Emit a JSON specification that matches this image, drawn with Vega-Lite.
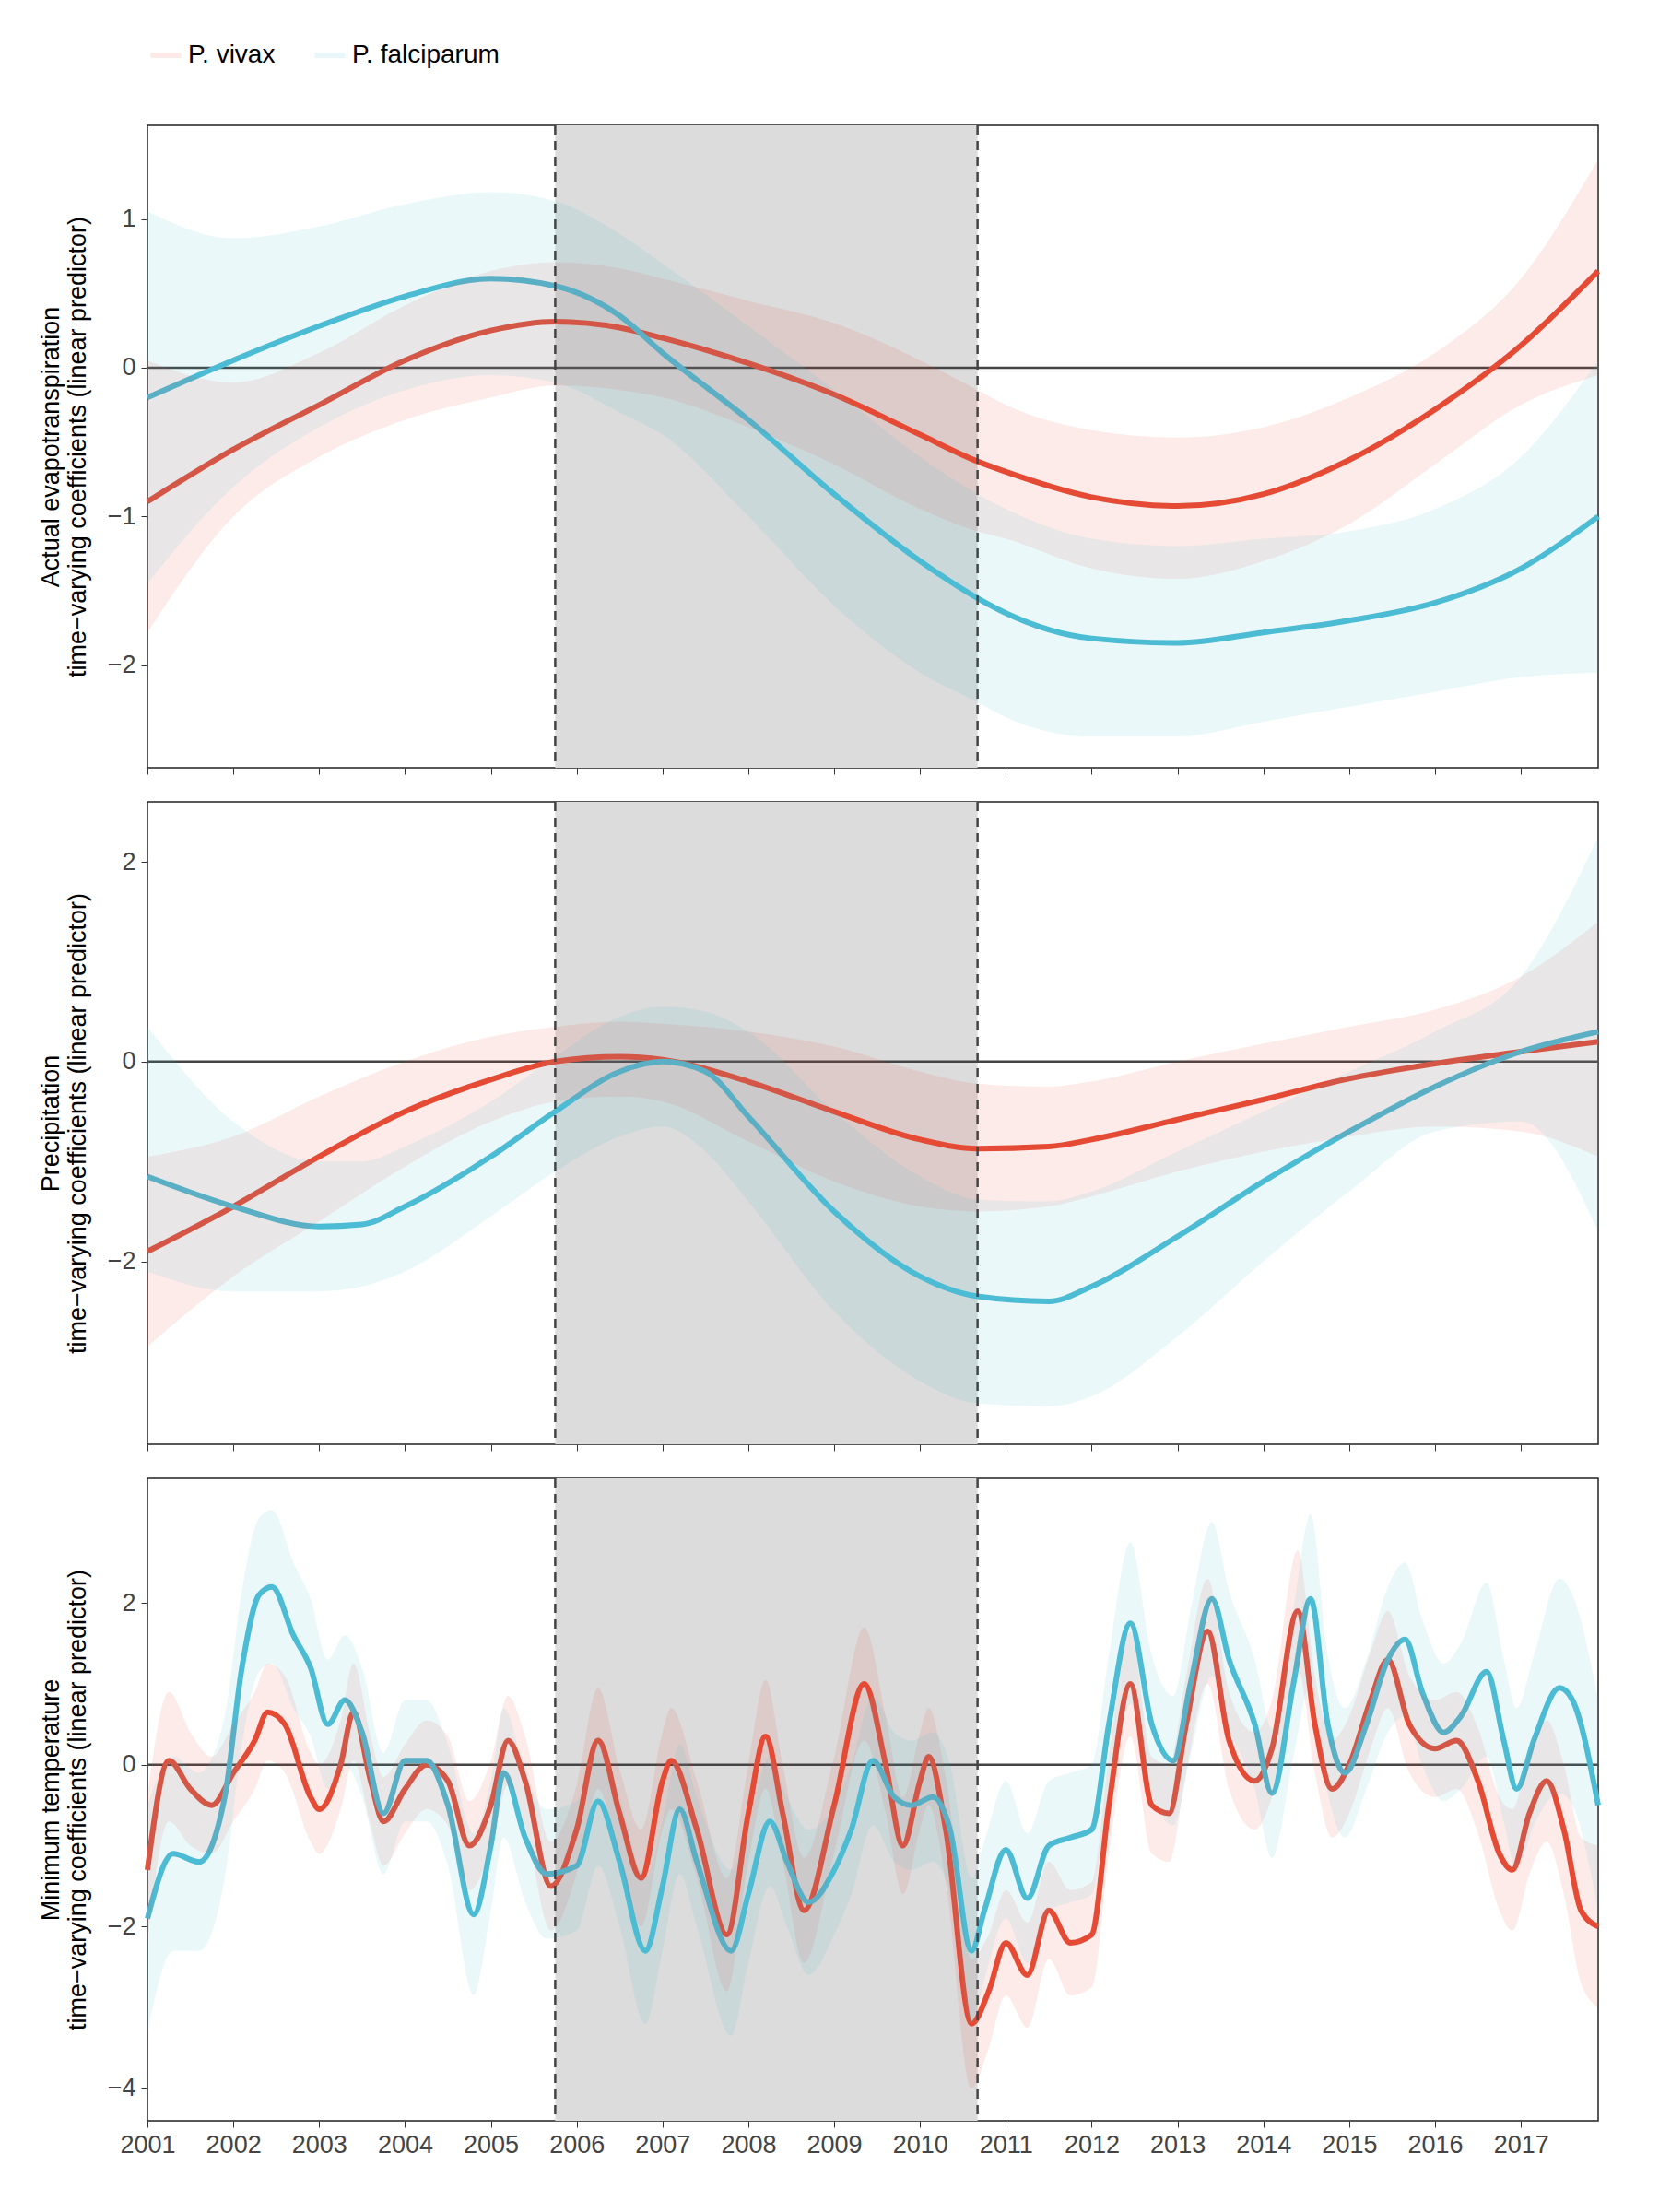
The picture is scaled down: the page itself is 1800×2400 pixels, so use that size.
{
  "$schema": "https://vega.github.io/schema/vega-lite/v6.json",
  "padding": {"left": 40, "top": 40, "right": 15, "bottom": 10},
  "config": {
    "font": "Liberation Sans",
    "view": {"stroke": "#222222", "strokeWidth": 1.5},
    "axis": {"grid": false, "domain": false, "labelFontSize": 27, "titleFontSize": 27, "labelColor": "#444444", "titleColor": "#000000", "titleFontWeight": "normal", "tickColor": "#333333", "tickSize": 7, "labelPadding": 6},
    "legend": {"orient": "top", "direction": "horizontal", "title": null, "labelFontSize": 28, "symbolType": "stroke", "symbolStrokeWidth": 6, "symbolSize": 1100, "columnPadding": 30, "offset": 60, "labelColor": "#000000"},
    "concat": {"spacing": 26}
  },
  "datasets": {
    "shade": [{"a": 2005.75, "b": 2010.67}],
    "p1": [
      {"s": "P. vivax", "x": 2001, "y": -0.9, "lo": -1.78, "hi": 0.05},
      {"s": "P. vivax", "x": 2002, "y": -0.55, "lo": -1.0, "hi": -0.1},
      {"s": "P. vivax", "x": 2003, "y": -0.25, "lo": -0.6, "hi": 0.1},
      {"s": "P. vivax", "x": 2004, "y": 0.05, "lo": -0.35, "hi": 0.42},
      {"s": "P. vivax", "x": 2005, "y": 0.25, "lo": -0.2, "hi": 0.65},
      {"s": "P. vivax", "x": 2005.75, "y": 0.31, "lo": -0.12, "hi": 0.71},
      {"s": "P. vivax", "x": 2006.5, "y": 0.27, "lo": -0.15, "hi": 0.67},
      {"s": "P. vivax", "x": 2007, "y": 0.2, "lo": -0.2, "hi": 0.6},
      {"s": "P. vivax", "x": 2008, "y": 0.03, "lo": -0.4, "hi": 0.45},
      {"s": "P. vivax", "x": 2009, "y": -0.18, "lo": -0.65, "hi": 0.3},
      {"s": "P. vivax", "x": 2010, "y": -0.45, "lo": -0.95, "hi": 0.05},
      {"s": "P. vivax", "x": 2010.67, "y": -0.63, "lo": -1.1, "hi": -0.15},
      {"s": "P. vivax", "x": 2011, "y": -0.7, "lo": -1.15, "hi": -0.25},
      {"s": "P. vivax", "x": 2012, "y": -0.87, "lo": -1.35, "hi": -0.42},
      {"s": "P. vivax", "x": 2013, "y": -0.93, "lo": -1.42, "hi": -0.47},
      {"s": "P. vivax", "x": 2014, "y": -0.85, "lo": -1.3, "hi": -0.4},
      {"s": "P. vivax", "x": 2015, "y": -0.62, "lo": -1.05, "hi": -0.2},
      {"s": "P. vivax", "x": 2016, "y": -0.28, "lo": -0.65, "hi": 0.1},
      {"s": "P. vivax", "x": 2017, "y": 0.15, "lo": -0.25, "hi": 0.6},
      {"s": "P. vivax", "x": 2017.9, "y": 0.65, "lo": -0.05, "hi": 1.4},
      {"s": "P. falciparum", "x": 2001, "y": -0.2, "lo": -1.45, "hi": 1.05},
      {"s": "P. falciparum", "x": 2002, "y": 0.05, "lo": -0.8, "hi": 0.87},
      {"s": "P. falciparum", "x": 2003, "y": 0.28, "lo": -0.4, "hi": 0.95},
      {"s": "P. falciparum", "x": 2004, "y": 0.48, "lo": -0.15, "hi": 1.1},
      {"s": "P. falciparum", "x": 2005, "y": 0.6, "lo": -0.05, "hi": 1.18},
      {"s": "P. falciparum", "x": 2005.75, "y": 0.55, "lo": -0.1, "hi": 1.12},
      {"s": "P. falciparum", "x": 2006.5, "y": 0.35, "lo": -0.3, "hi": 0.9},
      {"s": "P. falciparum", "x": 2007, "y": 0.1, "lo": -0.45, "hi": 0.7},
      {"s": "P. falciparum", "x": 2008, "y": -0.35, "lo": -1.0, "hi": 0.28},
      {"s": "P. falciparum", "x": 2009, "y": -0.85, "lo": -1.6, "hi": -0.15},
      {"s": "P. falciparum", "x": 2010, "y": -1.3, "lo": -2.05, "hi": -0.6},
      {"s": "P. falciparum", "x": 2010.67, "y": -1.55, "lo": -2.25, "hi": -0.85},
      {"s": "P. falciparum", "x": 2011, "y": -1.65, "lo": -2.35, "hi": -0.95},
      {"s": "P. falciparum", "x": 2012, "y": -1.82, "lo": -2.48, "hi": -1.15},
      {"s": "P. falciparum", "x": 2013, "y": -1.85, "lo": -2.48, "hi": -1.2},
      {"s": "P. falciparum", "x": 2014, "y": -1.78, "lo": -2.38, "hi": -1.15},
      {"s": "P. falciparum", "x": 2015, "y": -1.7, "lo": -2.28, "hi": -1.1},
      {"s": "P. falciparum", "x": 2016, "y": -1.58, "lo": -2.18, "hi": -0.95},
      {"s": "P. falciparum", "x": 2017, "y": -1.35, "lo": -2.08, "hi": -0.6},
      {"s": "P. falciparum", "x": 2017.9, "y": -1.0, "lo": -2.05, "hi": 0.05}
    ],
    "p2": [
      {"s": "P. vivax", "x": 2001, "y": -1.9, "lo": -2.85, "hi": -0.95},
      {"s": "P. vivax", "x": 2002, "y": -1.45, "lo": -2.15, "hi": -0.75},
      {"s": "P. vivax", "x": 2003, "y": -0.95, "lo": -1.6, "hi": -0.35},
      {"s": "P. vivax", "x": 2004, "y": -0.5, "lo": -1.05, "hi": 0.0},
      {"s": "P. vivax", "x": 2005, "y": -0.18, "lo": -0.6, "hi": 0.25},
      {"s": "P. vivax", "x": 2005.75, "y": 0.0, "lo": -0.4, "hi": 0.35},
      {"s": "P. vivax", "x": 2006.5, "y": 0.05, "lo": -0.35, "hi": 0.4},
      {"s": "P. vivax", "x": 2007, "y": 0.02, "lo": -0.4, "hi": 0.38},
      {"s": "P. vivax", "x": 2008, "y": -0.2, "lo": -0.8, "hi": 0.3},
      {"s": "P. vivax", "x": 2009, "y": -0.5, "lo": -1.2, "hi": 0.15},
      {"s": "P. vivax", "x": 2010, "y": -0.78, "lo": -1.45, "hi": -0.1},
      {"s": "P. vivax", "x": 2010.67, "y": -0.87, "lo": -1.5, "hi": -0.22},
      {"s": "P. vivax", "x": 2011.5, "y": -0.85, "lo": -1.45, "hi": -0.25},
      {"s": "P. vivax", "x": 2012, "y": -0.78, "lo": -1.35, "hi": -0.2},
      {"s": "P. vivax", "x": 2013, "y": -0.58, "lo": -1.1, "hi": 0.0},
      {"s": "P. vivax", "x": 2014, "y": -0.38, "lo": -0.9, "hi": 0.18},
      {"s": "P. vivax", "x": 2015, "y": -0.17, "lo": -0.75, "hi": 0.35},
      {"s": "P. vivax", "x": 2016, "y": -0.02, "lo": -0.65, "hi": 0.52},
      {"s": "P. vivax", "x": 2017, "y": 0.1, "lo": -0.7, "hi": 0.85},
      {"s": "P. vivax", "x": 2017.9, "y": 0.2, "lo": -0.95, "hi": 1.4},
      {"s": "P. falciparum", "x": 2001, "y": -1.15, "lo": -2.1, "hi": 0.35},
      {"s": "P. falciparum", "x": 2002, "y": -1.45, "lo": -2.3, "hi": -0.6},
      {"s": "P. falciparum", "x": 2003, "y": -1.65, "lo": -2.3, "hi": -1.0},
      {"s": "P. falciparum", "x": 2003.5, "y": -1.63, "lo": -2.25, "hi": -1.0},
      {"s": "P. falciparum", "x": 2004, "y": -1.45, "lo": -2.1, "hi": -0.85},
      {"s": "P. falciparum", "x": 2005, "y": -0.95, "lo": -1.55, "hi": -0.4},
      {"s": "P. falciparum", "x": 2005.75, "y": -0.5, "lo": -1.1, "hi": 0.05},
      {"s": "P. falciparum", "x": 2006.5, "y": -0.1, "lo": -0.75, "hi": 0.45},
      {"s": "P. falciparum", "x": 2007, "y": 0.0, "lo": -0.65, "hi": 0.55},
      {"s": "P. falciparum", "x": 2007.5, "y": -0.1, "lo": -0.9, "hi": 0.5},
      {"s": "P. falciparum", "x": 2008, "y": -0.55, "lo": -1.4, "hi": 0.3},
      {"s": "P. falciparum", "x": 2009, "y": -1.5, "lo": -2.5, "hi": -0.5},
      {"s": "P. falciparum", "x": 2010, "y": -2.15, "lo": -3.2, "hi": -1.15},
      {"s": "P. falciparum", "x": 2010.67, "y": -2.35, "lo": -3.42, "hi": -1.38},
      {"s": "P. falciparum", "x": 2011.5, "y": -2.4, "lo": -3.45, "hi": -1.4},
      {"s": "P. falciparum", "x": 2012, "y": -2.25, "lo": -3.35, "hi": -1.3},
      {"s": "P. falciparum", "x": 2013, "y": -1.75, "lo": -2.75, "hi": -0.9},
      {"s": "P. falciparum", "x": 2014, "y": -1.2, "lo": -2.0, "hi": -0.5},
      {"s": "P. falciparum", "x": 2015, "y": -0.7, "lo": -1.3, "hi": -0.1},
      {"s": "P. falciparum", "x": 2016, "y": -0.25, "lo": -0.7, "hi": 0.3},
      {"s": "P. falciparum", "x": 2017, "y": 0.1, "lo": -0.6, "hi": 0.85},
      {"s": "P. falciparum", "x": 2017.9, "y": 0.3, "lo": -1.7, "hi": 2.25}
    ],
    "p3": [
      {"s": "P. vivax", "x": 2001.0, "y": -1.3, "lo": -2.2, "hi": -0.4},
      {"s": "P. vivax", "x": 2001.25, "y": 0.05, "lo": -0.7, "hi": 0.9},
      {"s": "P. vivax", "x": 2001.5, "y": -0.3, "lo": -1.0, "hi": 0.4},
      {"s": "P. vivax", "x": 2001.75, "y": -0.5, "lo": -1.1, "hi": 0.1},
      {"s": "P. vivax", "x": 2002.0, "y": -0.1, "lo": -0.7, "hi": 0.5},
      {"s": "P. vivax", "x": 2002.25, "y": 0.3, "lo": -0.3, "hi": 0.9},
      {"s": "P. vivax", "x": 2002.4, "y": 0.65, "lo": 0.05, "hi": 1.25},
      {"s": "P. vivax", "x": 2002.6, "y": 0.5, "lo": -0.1, "hi": 1.1},
      {"s": "P. vivax", "x": 2002.9, "y": -0.4, "lo": -0.95, "hi": 0.15},
      {"s": "P. vivax", "x": 2003.0, "y": -0.55, "lo": -1.1, "hi": 0.0},
      {"s": "P. vivax", "x": 2003.25, "y": 0.0, "lo": -0.55, "hi": 0.55},
      {"s": "P. vivax", "x": 2003.4, "y": 0.65, "lo": 0.05, "hi": 1.25},
      {"s": "P. vivax", "x": 2003.6, "y": -0.2, "lo": -0.75, "hi": 0.35},
      {"s": "P. vivax", "x": 2003.75, "y": -0.7, "lo": -1.25, "hi": -0.15},
      {"s": "P. vivax", "x": 2004.0, "y": -0.3, "lo": -0.85, "hi": 0.25},
      {"s": "P. vivax", "x": 2004.25, "y": 0.0, "lo": -0.55, "hi": 0.55},
      {"s": "P. vivax", "x": 2004.5, "y": -0.2, "lo": -0.75, "hi": 0.35},
      {"s": "P. vivax", "x": 2004.75, "y": -1.0, "lo": -1.55, "hi": -0.45},
      {"s": "P. vivax", "x": 2005.0, "y": -0.5, "lo": -1.05, "hi": 0.05},
      {"s": "P. vivax", "x": 2005.2, "y": 0.3, "lo": -0.25, "hi": 0.85},
      {"s": "P. vivax", "x": 2005.4, "y": -0.2, "lo": -0.75, "hi": 0.35},
      {"s": "P. vivax", "x": 2005.7, "y": -1.5, "lo": -2.05, "hi": -0.95},
      {"s": "P. vivax", "x": 2006.0, "y": -0.8, "lo": -1.35, "hi": -0.25},
      {"s": "P. vivax", "x": 2006.25, "y": 0.3, "lo": -0.3, "hi": 0.95},
      {"s": "P. vivax", "x": 2006.5, "y": -0.6, "lo": -1.15, "hi": -0.05},
      {"s": "P. vivax", "x": 2006.75, "y": -1.4, "lo": -2.0, "hi": -0.8},
      {"s": "P. vivax", "x": 2007.0, "y": -0.2, "lo": -0.8, "hi": 0.4},
      {"s": "P. vivax", "x": 2007.1, "y": 0.05, "lo": -0.55, "hi": 0.7},
      {"s": "P. vivax", "x": 2007.4, "y": -0.8, "lo": -1.4, "hi": -0.2},
      {"s": "P. vivax", "x": 2007.75, "y": -2.1, "lo": -2.8, "hi": -1.4},
      {"s": "P. vivax", "x": 2008.0, "y": -0.6, "lo": -1.2, "hi": 0.0},
      {"s": "P. vivax", "x": 2008.2, "y": 0.35, "lo": -0.3, "hi": 1.05},
      {"s": "P. vivax", "x": 2008.4, "y": -0.6, "lo": -1.2, "hi": 0.0},
      {"s": "P. vivax", "x": 2008.65, "y": -1.8, "lo": -2.45, "hi": -1.15},
      {"s": "P. vivax", "x": 2009.0, "y": -0.5, "lo": -1.1, "hi": 0.1},
      {"s": "P. vivax", "x": 2009.35, "y": 1.0, "lo": 0.3, "hi": 1.7},
      {"s": "P. vivax", "x": 2009.6, "y": 0.0, "lo": -0.6, "hi": 0.6},
      {"s": "P. vivax", "x": 2009.8, "y": -1.0, "lo": -1.6, "hi": -0.4},
      {"s": "P. vivax", "x": 2010.0, "y": -0.2, "lo": -0.8, "hi": 0.4},
      {"s": "P. vivax", "x": 2010.1, "y": 0.1, "lo": -0.5, "hi": 0.7},
      {"s": "P. vivax", "x": 2010.3, "y": -0.8, "lo": -1.45, "hi": -0.15},
      {"s": "P. vivax", "x": 2010.6, "y": -3.2, "lo": -4.0, "hi": -2.4},
      {"s": "P. vivax", "x": 2010.8, "y": -2.8, "lo": -3.5, "hi": -2.1},
      {"s": "P. vivax", "x": 2011.0, "y": -2.2, "lo": -2.85, "hi": -1.55},
      {"s": "P. vivax", "x": 2011.25, "y": -2.6, "lo": -3.25, "hi": -1.95},
      {"s": "P. vivax", "x": 2011.5, "y": -1.8, "lo": -2.4, "hi": -1.2},
      {"s": "P. vivax", "x": 2011.75, "y": -2.2, "lo": -2.85, "hi": -1.55},
      {"s": "P. vivax", "x": 2012.0, "y": -2.1, "lo": -2.75, "hi": -1.45},
      {"s": "P. vivax", "x": 2012.2, "y": -0.5, "lo": -1.1, "hi": 0.1},
      {"s": "P. vivax", "x": 2012.45, "y": 1.0, "lo": 0.35, "hi": 1.65},
      {"s": "P. vivax", "x": 2012.7, "y": -0.5, "lo": -1.1, "hi": 0.1},
      {"s": "P. vivax", "x": 2012.9, "y": -0.6, "lo": -1.2, "hi": 0.0},
      {"s": "P. vivax", "x": 2013.1, "y": 0.5, "lo": -0.1, "hi": 1.1},
      {"s": "P. vivax", "x": 2013.35, "y": 1.65, "lo": 1.0, "hi": 2.3},
      {"s": "P. vivax", "x": 2013.6, "y": 0.3, "lo": -0.3, "hi": 0.9},
      {"s": "P. vivax", "x": 2013.9, "y": -0.2, "lo": -0.8, "hi": 0.4},
      {"s": "P. vivax", "x": 2014.1, "y": 0.2, "lo": -0.4, "hi": 0.8},
      {"s": "P. vivax", "x": 2014.4, "y": 1.9, "lo": 1.2, "hi": 2.65},
      {"s": "P. vivax", "x": 2014.6, "y": 0.5, "lo": -0.1, "hi": 1.1},
      {"s": "P. vivax", "x": 2014.8, "y": -0.3, "lo": -0.9, "hi": 0.3},
      {"s": "P. vivax", "x": 2015.0, "y": 0.0, "lo": -0.6, "hi": 0.6},
      {"s": "P. vivax", "x": 2015.25, "y": 0.8, "lo": 0.2, "hi": 1.4},
      {"s": "P. vivax", "x": 2015.45, "y": 1.3, "lo": 0.7, "hi": 1.9},
      {"s": "P. vivax", "x": 2015.7, "y": 0.5, "lo": -0.1, "hi": 1.1},
      {"s": "P. vivax", "x": 2016.0, "y": 0.2, "lo": -0.4, "hi": 0.8},
      {"s": "P. vivax", "x": 2016.25, "y": 0.3, "lo": -0.3, "hi": 0.9},
      {"s": "P. vivax", "x": 2016.5, "y": -0.2, "lo": -0.85, "hi": 0.45},
      {"s": "P. vivax", "x": 2016.75, "y": -1.1, "lo": -1.8, "hi": -0.4},
      {"s": "P. vivax", "x": 2016.9, "y": -1.3, "lo": -2.05, "hi": -0.55},
      {"s": "P. vivax", "x": 2017.1, "y": -0.6, "lo": -1.35, "hi": 0.15},
      {"s": "P. vivax", "x": 2017.3, "y": -0.2, "lo": -0.95, "hi": 0.55},
      {"s": "P. vivax", "x": 2017.5, "y": -0.8, "lo": -1.6, "hi": 0.0},
      {"s": "P. vivax", "x": 2017.7, "y": -1.8, "lo": -2.7, "hi": -0.9},
      {"s": "P. vivax", "x": 2017.9, "y": -2.0, "lo": -3.0, "hi": -1.0},
      {"s": "P. falciparum", "x": 2001.0, "y": -1.9, "lo": -3.3, "hi": -0.5},
      {"s": "P. falciparum", "x": 2001.3, "y": -1.1, "lo": -2.3, "hi": 0.1},
      {"s": "P. falciparum", "x": 2001.6, "y": -1.2, "lo": -2.3, "hi": -0.1},
      {"s": "P. falciparum", "x": 2001.9, "y": -0.4, "lo": -1.4, "hi": 0.6},
      {"s": "P. falciparum", "x": 2002.1, "y": 1.2, "lo": 0.25, "hi": 2.15},
      {"s": "P. falciparum", "x": 2002.3, "y": 2.1, "lo": 1.15, "hi": 3.05},
      {"s": "P. falciparum", "x": 2002.45, "y": 2.2, "lo": 1.25, "hi": 3.15},
      {"s": "P. falciparum", "x": 2002.7, "y": 1.6, "lo": 0.7, "hi": 2.5},
      {"s": "P. falciparum", "x": 2002.9, "y": 1.2, "lo": 0.35, "hi": 2.05},
      {"s": "P. falciparum", "x": 2003.1, "y": 0.5, "lo": -0.3, "hi": 1.3},
      {"s": "P. falciparum", "x": 2003.3, "y": 0.8, "lo": 0.0, "hi": 1.6},
      {"s": "P. falciparum", "x": 2003.5, "y": 0.4, "lo": -0.4, "hi": 1.2},
      {"s": "P. falciparum", "x": 2003.75, "y": -0.6, "lo": -1.35, "hi": 0.15},
      {"s": "P. falciparum", "x": 2004.0, "y": 0.05, "lo": -0.7, "hi": 0.8},
      {"s": "P. falciparum", "x": 2004.25, "y": 0.05, "lo": -0.7, "hi": 0.8},
      {"s": "P. falciparum", "x": 2004.5, "y": -0.5, "lo": -1.25, "hi": 0.25},
      {"s": "P. falciparum", "x": 2004.8, "y": -1.85, "lo": -2.85, "hi": -0.85},
      {"s": "P. falciparum", "x": 2005.0, "y": -1.0, "lo": -1.8, "hi": -0.2},
      {"s": "P. falciparum", "x": 2005.15, "y": -0.1, "lo": -0.9, "hi": 0.7},
      {"s": "P. falciparum", "x": 2005.4, "y": -0.9, "lo": -1.7, "hi": -0.1},
      {"s": "P. falciparum", "x": 2005.65, "y": -1.35, "lo": -2.15, "hi": -0.55},
      {"s": "P. falciparum", "x": 2006.0, "y": -1.25, "lo": -2.05, "hi": -0.45},
      {"s": "P. falciparum", "x": 2006.25, "y": -0.45, "lo": -1.25, "hi": 0.35},
      {"s": "P. falciparum", "x": 2006.5, "y": -1.2, "lo": -2.0, "hi": -0.4},
      {"s": "P. falciparum", "x": 2006.8, "y": -2.3, "lo": -3.2, "hi": -1.4},
      {"s": "P. falciparum", "x": 2007.0, "y": -1.5, "lo": -2.3, "hi": -0.7},
      {"s": "P. falciparum", "x": 2007.2, "y": -0.55, "lo": -1.35, "hi": 0.25},
      {"s": "P. falciparum", "x": 2007.4, "y": -1.2, "lo": -2.0, "hi": -0.4},
      {"s": "P. falciparum", "x": 2007.8, "y": -2.3, "lo": -3.35, "hi": -1.3},
      {"s": "P. falciparum", "x": 2008.0, "y": -1.6, "lo": -2.45, "hi": -0.75},
      {"s": "P. falciparum", "x": 2008.25, "y": -0.7, "lo": -1.5, "hi": 0.1},
      {"s": "P. falciparum", "x": 2008.45, "y": -1.2, "lo": -2.0, "hi": -0.4},
      {"s": "P. falciparum", "x": 2008.7, "y": -1.7, "lo": -2.6, "hi": -0.8},
      {"s": "P. falciparum", "x": 2009.0, "y": -1.3, "lo": -2.1, "hi": -0.5},
      {"s": "P. falciparum", "x": 2009.2, "y": -0.8, "lo": -1.6, "hi": 0.0},
      {"s": "P. falciparum", "x": 2009.45, "y": 0.05, "lo": -0.75, "hi": 0.85},
      {"s": "P. falciparum", "x": 2009.7, "y": -0.4, "lo": -1.2, "hi": 0.4},
      {"s": "P. falciparum", "x": 2009.9, "y": -0.5, "lo": -1.3, "hi": 0.3},
      {"s": "P. falciparum", "x": 2010.15, "y": -0.4, "lo": -1.2, "hi": 0.4},
      {"s": "P. falciparum", "x": 2010.35, "y": -0.8, "lo": -1.6, "hi": 0.0},
      {"s": "P. falciparum", "x": 2010.6, "y": -2.3, "lo": -3.2, "hi": -1.4},
      {"s": "P. falciparum", "x": 2010.75, "y": -1.8, "lo": -2.65, "hi": -0.95},
      {"s": "P. falciparum", "x": 2011.0, "y": -1.05, "lo": -1.9, "hi": -0.2},
      {"s": "P. falciparum", "x": 2011.25, "y": -1.65, "lo": -2.45, "hi": -0.85},
      {"s": "P. falciparum", "x": 2011.5, "y": -1.0, "lo": -1.8, "hi": -0.2},
      {"s": "P. falciparum", "x": 2011.75, "y": -0.9, "lo": -1.7, "hi": -0.1},
      {"s": "P. falciparum", "x": 2012.0, "y": -0.8, "lo": -1.6, "hi": 0.0},
      {"s": "P. falciparum", "x": 2012.2, "y": 0.5, "lo": -0.35, "hi": 1.35},
      {"s": "P. falciparum", "x": 2012.45, "y": 1.75, "lo": 0.75, "hi": 2.75},
      {"s": "P. falciparum", "x": 2012.7, "y": 0.5, "lo": -0.35, "hi": 1.35},
      {"s": "P. falciparum", "x": 2012.95, "y": 0.05, "lo": -0.75, "hi": 0.85},
      {"s": "P. falciparum", "x": 2013.15, "y": 1.0, "lo": 0.1, "hi": 1.9},
      {"s": "P. falciparum", "x": 2013.4, "y": 2.05, "lo": 1.1, "hi": 3.0},
      {"s": "P. falciparum", "x": 2013.6, "y": 1.3, "lo": 0.45, "hi": 2.15},
      {"s": "P. falciparum", "x": 2013.9, "y": 0.5, "lo": -0.3, "hi": 1.3},
      {"s": "P. falciparum", "x": 2014.1, "y": -0.35, "lo": -1.15, "hi": 0.45},
      {"s": "P. falciparum", "x": 2014.35, "y": 1.0, "lo": 0.1, "hi": 1.9},
      {"s": "P. falciparum", "x": 2014.55, "y": 2.05, "lo": 1.0, "hi": 3.1},
      {"s": "P. falciparum", "x": 2014.75, "y": 0.5, "lo": -0.35, "hi": 1.35},
      {"s": "P. falciparum", "x": 2014.95, "y": -0.1, "lo": -0.9, "hi": 0.7},
      {"s": "P. falciparum", "x": 2015.2, "y": 0.5, "lo": -0.3, "hi": 1.3},
      {"s": "P. falciparum", "x": 2015.45, "y": 1.3, "lo": 0.4, "hi": 2.2},
      {"s": "P. falciparum", "x": 2015.65, "y": 1.55, "lo": 0.6, "hi": 2.5},
      {"s": "P. falciparum", "x": 2015.85, "y": 0.9, "lo": 0.0, "hi": 1.8},
      {"s": "P. falciparum", "x": 2016.1, "y": 0.4, "lo": -0.45, "hi": 1.25},
      {"s": "P. falciparum", "x": 2016.3, "y": 0.6, "lo": -0.3, "hi": 1.5},
      {"s": "P. falciparum", "x": 2016.6, "y": 1.15, "lo": 0.1, "hi": 2.25},
      {"s": "P. falciparum", "x": 2016.8, "y": 0.3, "lo": -0.7, "hi": 1.3},
      {"s": "P. falciparum", "x": 2016.95, "y": -0.3, "lo": -1.3, "hi": 0.7},
      {"s": "P. falciparum", "x": 2017.15, "y": 0.3, "lo": -0.75, "hi": 1.35},
      {"s": "P. falciparum", "x": 2017.45, "y": 0.95, "lo": -0.35, "hi": 2.3},
      {"s": "P. falciparum", "x": 2017.6, "y": 0.8, "lo": -0.5, "hi": 2.1},
      {"s": "P. falciparum", "x": 2017.9, "y": -0.5, "lo": -1.8, "hi": 0.8}
    ]
  },
  "resolve": {"scale": {"color": "shared"}, "legend": {"color": "shared"}},
  "vconcat": [
    {
      "width": 1574, "height": 697,
      "layer": [
        {"data": {"name": "shade"}, "mark": {"type": "rect", "color": "#DCDCDC"}, "encoding": {"x": {"field": "a", "type": "quantitative"}, "x2": {"field": "b"}}},
        {"data": {"values": [{"z": 0}]}, "mark": {"type": "rule", "color": "#444444", "strokeWidth": 2.5}, "encoding": {"y": {"field": "z", "type": "quantitative"}}},
        {"data": {"name": "p1"}, "mark": {"type": "line", "strokeWidth": 6, "interpolate": "monotone"}, "encoding": {
          "x": {"field": "x", "type": "quantitative", "scale": {"domain": [2001, 2017.9], "nice": false, "zero": false}, "axis": {"title": null, "labels": false, "values": [2001,2002,2003,2004,2005,2006,2007,2008,2009,2010,2011,2012,2013,2014,2015,2016,2017]}},
          "y": {"field": "y", "type": "quantitative", "scale": {"domain": [-2.69, 1.63], "nice": false, "zero": false}, "axis": {"values": [-2, -1, 0, 1], "format": "d", "labelExpr": "replace(datum.label, '-', '−')", "title": ["Actual evapotranspiration", "time−varying coefficients (linear predictor)"], "titlePadding": 18}},
          "color": {"field": "s", "type": "nominal", "scale": {"domain": ["P. vivax", "P. falciparum"], "range": ["#E64B35", "#4DBBD5"]}}}},
        {"data": {"name": "p1"}, "mark": {"type": "area", "opacity": 0.11, "interpolate": "monotone"}, "encoding": {"x": {"field": "x", "type": "quantitative"}, "y": {"field": "lo", "type": "quantitative"}, "y2": {"field": "hi"}, "color": {"field": "s", "type": "nominal"}}},
        {"data": {"name": "shade"}, "mark": {"type": "rule", "strokeDash": [10, 7], "strokeWidth": 2.5, "color": "#444444"}, "encoding": {"x": {"field": "a", "type": "quantitative"}}},
        {"data": {"name": "shade"}, "mark": {"type": "rule", "strokeDash": [10, 7], "strokeWidth": 2.5, "color": "#444444"}, "encoding": {"x": {"field": "b", "type": "quantitative"}}}
      ]
    },
    {
      "width": 1574, "height": 697,
      "layer": [
        {"data": {"name": "shade"}, "mark": {"type": "rect", "color": "#DCDCDC"}, "encoding": {"x": {"field": "a", "type": "quantitative"}, "x2": {"field": "b"}}},
        {"data": {"values": [{"z": 0}]}, "mark": {"type": "rule", "color": "#444444", "strokeWidth": 2.5}, "encoding": {"y": {"field": "z", "type": "quantitative"}}},
        {"data": {"name": "p2"}, "mark": {"type": "line", "strokeWidth": 6, "interpolate": "monotone"}, "encoding": {
          "x": {"field": "x", "type": "quantitative", "scale": {"domain": [2001, 2017.9], "nice": false, "zero": false}, "axis": {"title": null, "labels": false, "values": [2001,2002,2003,2004,2005,2006,2007,2008,2009,2010,2011,2012,2013,2014,2015,2016,2017]}},
          "y": {"field": "y", "type": "quantitative", "scale": {"domain": [-3.83, 2.6], "nice": false, "zero": false}, "axis": {"values": [-2, 0, 2], "format": "d", "labelExpr": "replace(datum.label, '-', '−')", "title": ["Precipitation", "time−varying coefficients (linear predictor)"], "titlePadding": 18}},
          "color": {"field": "s", "type": "nominal"}}},
        {"data": {"name": "p2"}, "mark": {"type": "area", "opacity": 0.11, "interpolate": "monotone"}, "encoding": {"x": {"field": "x", "type": "quantitative"}, "y": {"field": "lo", "type": "quantitative"}, "y2": {"field": "hi"}, "color": {"field": "s", "type": "nominal"}}},
        {"data": {"name": "shade"}, "mark": {"type": "rule", "strokeDash": [10, 7], "strokeWidth": 2.5, "color": "#444444"}, "encoding": {"x": {"field": "a", "type": "quantitative"}}},
        {"data": {"name": "shade"}, "mark": {"type": "rule", "strokeDash": [10, 7], "strokeWidth": 2.5, "color": "#444444"}, "encoding": {"x": {"field": "b", "type": "quantitative"}}}
      ]
    },
    {
      "width": 1574, "height": 697,
      "layer": [
        {"data": {"name": "shade"}, "mark": {"type": "rect", "color": "#DCDCDC"}, "encoding": {"x": {"field": "a", "type": "quantitative"}, "x2": {"field": "b"}}},
        {"data": {"values": [{"z": 0}]}, "mark": {"type": "rule", "color": "#444444", "strokeWidth": 2.5}, "encoding": {"y": {"field": "z", "type": "quantitative"}}},
        {"data": {"name": "p3"}, "mark": {"type": "line", "strokeWidth": 6, "interpolate": "monotone"}, "encoding": {
          "x": {"field": "x", "type": "quantitative", "scale": {"domain": [2001, 2017.9], "nice": false, "zero": false}, "axis": {"title": null, "format": "d", "labelFlush": false, "values": [2001,2002,2003,2004,2005,2006,2007,2008,2009,2010,2011,2012,2013,2014,2015,2016,2017]}},
          "y": {"field": "y", "type": "quantitative", "scale": {"domain": [-4.4, 3.54], "nice": false, "zero": false}, "axis": {"values": [-4, -2, 0, 2], "format": "d", "labelExpr": "replace(datum.label, '-', '−')", "title": ["Minimum temperature", "time−varying coefficients (linear predictor)"], "titlePadding": 18}},
          "color": {"field": "s", "type": "nominal"}}},
        {"data": {"name": "p3"}, "mark": {"type": "area", "opacity": 0.11, "interpolate": "monotone"}, "encoding": {"x": {"field": "x", "type": "quantitative"}, "y": {"field": "lo", "type": "quantitative"}, "y2": {"field": "hi"}, "color": {"field": "s", "type": "nominal"}}},
        {"data": {"name": "shade"}, "mark": {"type": "rule", "strokeDash": [10, 7], "strokeWidth": 2.5, "color": "#444444"}, "encoding": {"x": {"field": "a", "type": "quantitative"}}},
        {"data": {"name": "shade"}, "mark": {"type": "rule", "strokeDash": [10, 7], "strokeWidth": 2.5, "color": "#444444"}, "encoding": {"x": {"field": "b", "type": "quantitative"}}}
      ]
    }
  ]
}
